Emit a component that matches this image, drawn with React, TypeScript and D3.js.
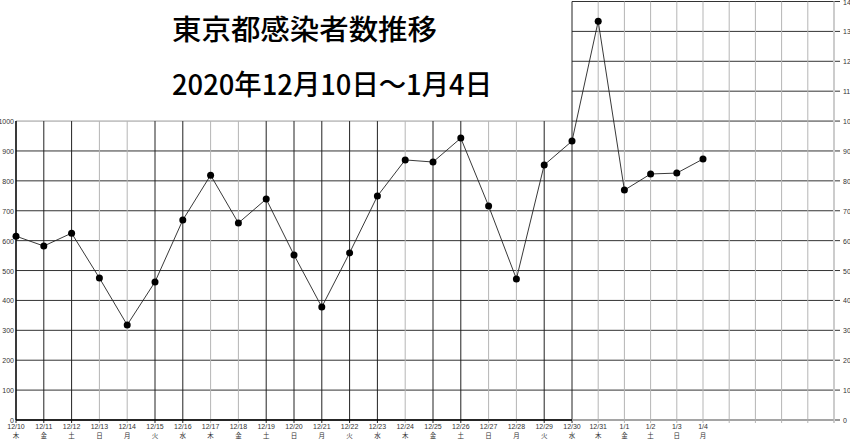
import React, { useEffect, useRef } from 'react';
import * as d3 from 'd3';

// 日付・曜日・感染者数
const dates = [
  '12/10', '12/11', '12/12', '12/13', '12/14', '12/15', '12/16', '12/17', '12/18',
  '12/19', '12/20', '12/21', '12/22', '12/23', '12/24', '12/25', '12/26', '12/27',
  '12/28', '12/29', '12/30', '12/31', '1/1', '1/2', '1/3', '1/4',
];
const weekdays = [
  '木', '金', '土', '日', '月', '火', '水', '木', '金', '土', '日', '月', '火',
  '水', '木', '金', '土', '日', '月', '火', '水', '木', '金', '土', '日', '月',
];
const cases = [
  615, 582, 625, 475, 318, 462, 669, 819, 659, 739, 552, 378, 559,
  749, 870, 863, 943, 716, 472, 853, 933, 1334, 769, 823, 826, 873,
];
const leftTicks = [0, 100, 200, 300, 400, 500, 600, 700, 800, 900, 1000];
const rightTicks = [0, 100, 200, 300, 400, 500, 600, 700, 800, 900, 1000, 1100, 1200, 1300, 1400];

const title = '東京都感染者数推移';
const subtitle = '2020年12月10日～1月4日';

// 濃い縦線の位置（見た目用）
const darkCols = new Set([0, 1, 2, 5, 6, 9, 10, 11, 12, 13, 15, 16, 19, 20]);

const W = 850;
const H = 439;

const App: React.FC = () => {
  const ref = useRef<SVGSVGElement | null>(null);

  useEffect(() => {
    if (!ref.current) return;
    const svg = d3.select(ref.current);
    svg.selectAll('*').remove();

    // 左のグラフ（12/10〜12/30）と右のグラフ（12/30〜）
    const x = d3.scaleLinear().domain([0, 20, 30]).range([16, 572, 834]);
    const y = d3.scaleLinear().domain([0, 1400]).range([420, 1.5]);

    const font = '"Liberation Sans", "Noto Sans CJK JP", sans-serif';

    // 左の横線
    svg.append('g')
      .selectAll('line')
      .data(leftTicks)
      .enter()
      .append('line')
      .attr('x1', x(0))
      .attr('x2', x(20))
      .attr('y1', (d) => y(d))
      .attr('y2', (d) => y(d))
      .attr('stroke', (d) => (d === 1000 ? '#999' : '#333'))
      .attr('stroke-width', 1);

    // 右の横線
    svg.append('g')
      .selectAll('line')
      .data(rightTicks)
      .enter()
      .append('line')
      .attr('x1', x(20))
      .attr('x2', x(30) + 6)
      .attr('y1', (d) => y(d))
      .attr('y2', (d) => y(d))
      .attr('stroke', '#333')
      .attr('stroke-width', 1);

    // 縦線
    const cols = d3.range(0, 30);
    svg.append('g')
      .selectAll('line')
      .data(cols)
      .enter()
      .append('line')
      .attr('x1', (d) => x(d))
      .attr('x2', (d) => x(d))
      .attr('y1', (d) => (d < 20 ? y(1000) : y(1400)))
      .attr('y2', y(0) + 3)
      .attr('stroke', (d) => (darkCols.has(d) ? '#222' : '#b5b5b5'))
      .attr('stroke-width', 1);

    // 右軸
    svg.append('line')
      .attr('x1', x(30)).attr('x2', x(30))
      .attr('y1', y(1400)).attr('y2', y(0) + 3)
      .attr('stroke', '#ccc').attr('stroke-width', 2);

    // 左軸・下軸
    svg.append('line')
      .attr('x1', x(0)).attr('x2', x(0))
      .attr('y1', y(1000)).attr('y2', y(0))
      .attr('stroke', '#000').attr('stroke-width', 1.2);
    svg.append('line')
      .attr('x1', x(0)).attr('x2', x(20))
      .attr('y1', y(0)).attr('y2', y(0))
      .attr('stroke', '#000').attr('stroke-width', 1.5);
    svg.append('line')
      .attr('x1', x(20)).attr('x2', x(30))
      .attr('y1', y(0)).attr('y2', y(0))
      .attr('stroke', '#aaa').attr('stroke-width', 1.5);

    // 左の目盛りラベル
    svg.append('g')
      .selectAll('text')
      .data(leftTicks)
      .enter()
      .append('text')
      .attr('x', 14)
      .attr('y', (d) => y(d) + 3)
      .attr('text-anchor', 'end')
      .attr('font-family', font)
      .attr('font-size', 7)
      .attr('fill', '#333')
      .text((d) => d);

    // 右の目盛りラベル
    svg.append('g')
      .selectAll('text')
      .data(rightTicks)
      .enter()
      .append('text')
      .attr('x', x(30) + 9)
      .attr('y', (d) => y(d) + 3)
      .attr('font-family', font)
      .attr('font-size', 7)
      .attr('fill', '#333')
      .text((d) => d);

    // 日付ラベル
    const lab = svg.append('g')
      .selectAll('g')
      .data(dates)
      .enter()
      .append('g')
      .attr('transform', (_, i) => `translate(${x(i)},0)`);
    lab.append('text')
      .attr('y', 429)
      .attr('text-anchor', 'middle')
      .attr('font-family', font)
      .attr('font-size', 7)
      .attr('fill', '#333')
      .text((d) => d);
    lab.append('text')
      .attr('y', 438)
      .attr('text-anchor', 'middle')
      .attr('font-family', '"Noto Sans CJK JP", sans-serif')
      .attr('font-size', 6.5)
      .attr('fill', '#333')
      .text((_, i) => weekdays[i]);

    // 折れ線
    const line = d3.line<number>()
      .x((_, i) => x(i))
      .y((d) => y(d));
    svg.append('path')
      .datum(cases)
      .attr('fill', 'none')
      .attr('stroke', '#222')
      .attr('stroke-width', 0.9)
      .attr('d', line);

    svg.selectAll('.dot')
      .data(cases)
      .enter()
      .append('circle')
      .attr('class', 'dot')
      .attr('cx', (_, i) => x(i))
      .attr('cy', (d) => y(d))
      .attr('r', 3.5)
      .attr('fill', '#000');

    // タイトル
    svg.append('text')
      .attr('x', 172)
      .attr('y', 40)
      .attr('font-family', '"Noto Sans CJK JP", sans-serif')
      .attr('font-size', 28)
      .attr('font-weight', 500)
      .attr('textLength', 265)
      .attr('lengthAdjust', 'spacingAndGlyphs')
      .attr('fill', '#000')
      .text(title);
    svg.append('text')
      .attr('x', 172)
      .attr('y', 95)
      .attr('font-family', '"Noto Sans CJK JP", sans-serif')
      .attr('font-size', 28)
      .attr('font-weight', 500)
      .attr('textLength', 320)
      .attr('lengthAdjust', 'spacingAndGlyphs')
      .attr('fill', '#000')
      .text(subtitle);
  }, []);

  return (
    <svg
      ref={ref}
      width={W}
      height={H}
      style={{ position: 'absolute', left: 0, top: 0, background: '#fff' }}
    />
  );
};

export default App;
